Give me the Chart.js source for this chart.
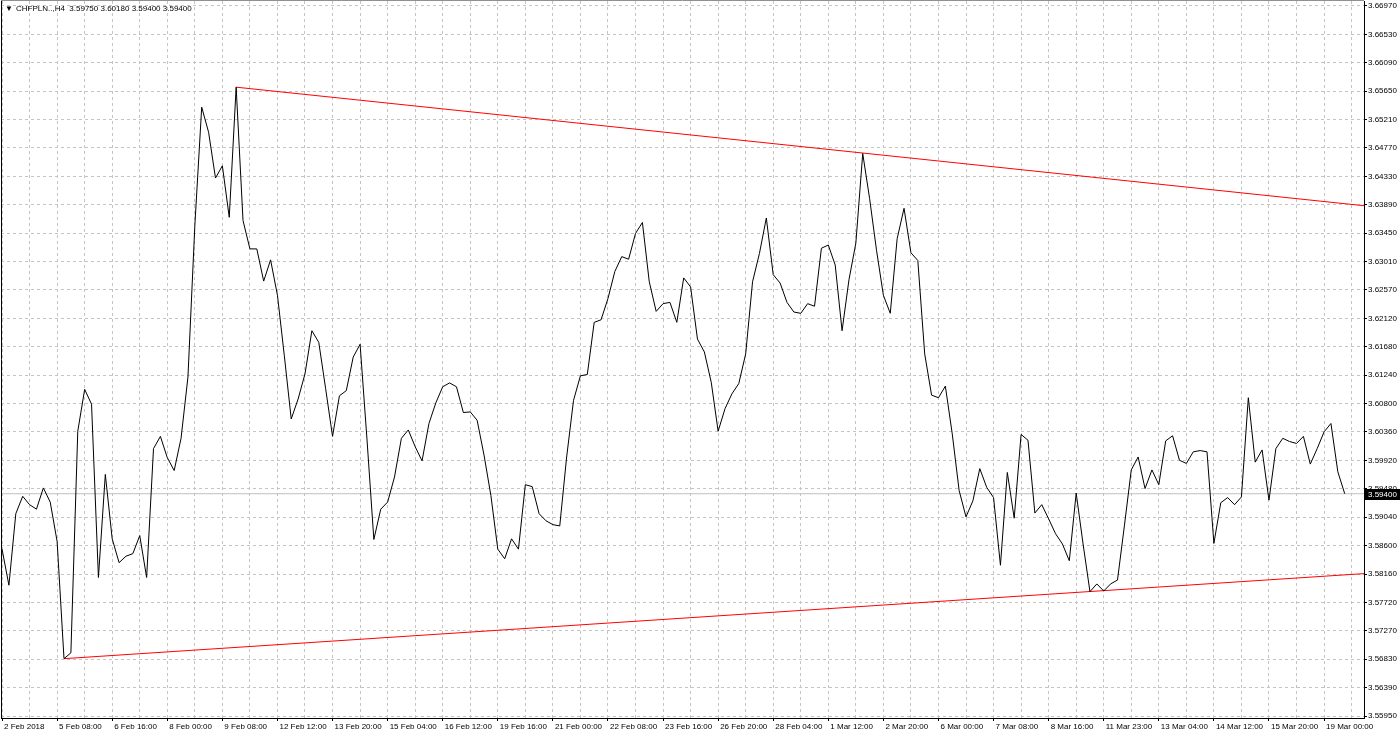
<!DOCTYPE html>
<html>
<head>
<meta charset="utf-8">
<title>CHFPLN H4</title>
<script src="https://cdn.jsdelivr.net/npm/chart.js@4.4.1/dist/chart.umd.min.js"></script>
<style>
  html, body { margin: 0; padding: 0; background: #fff; }
  #grafico { display: block; }
</style>
</head>
<body>
<canvas id="grafico" width="1400" height="736"></canvas>
<script>
// === Dados (fechamentos H4) ===
const closes = [
  3.5854, 3.5798, 3.5909, 3.5936, 3.5923, 3.5916, 3.5949, 3.5927, 3.5866, 3.5684,
  3.5693, 3.6037, 3.6102, 3.6079, 3.5810, 3.5970, 3.5870, 3.5833, 3.5843, 3.5847,
  3.5875, 3.5810, 3.6010, 3.6029, 3.5996, 3.5976, 3.6026, 3.6121, 3.6356, 3.6540,
  3.6501, 3.6430, 3.6449, 3.6369, 3.6571, 3.6364, 3.6320, 3.6320, 3.6270, 3.6303,
  3.6248, 3.6154, 3.6056, 3.6087, 3.6126, 3.6193, 3.6175, 3.6103, 3.6029, 3.6092,
  3.6100, 3.6152, 3.6172, 3.6025, 3.5869, 3.5916, 3.5927, 3.5966, 3.6026, 3.6039,
  3.6013, 3.5991, 3.6049, 3.6081, 3.6106, 3.6112, 3.6106, 3.6066, 3.6067, 3.6054,
  3.6000, 3.5937, 3.5854, 3.5839, 3.5870, 3.5854, 3.5954, 3.5951, 3.5909, 3.5898,
  3.5892, 3.5890, 3.5997, 3.6085, 3.6123, 3.6125, 3.6206, 3.6210, 3.6243, 3.6285,
  3.6308, 3.6304, 3.6344, 3.6361, 3.6269, 3.6223, 3.6235, 3.6237, 3.6206, 3.6275,
  3.6261, 3.6180, 3.6160, 3.6113, 3.6037, 3.6072, 3.6095, 3.6111, 3.6157, 3.6269,
  3.6313, 3.6368, 3.6280, 3.6267, 3.6237, 3.6222, 3.6220, 3.6235, 3.6231, 3.6321,
  3.6326, 3.6295, 3.6193, 3.6272, 3.6329, 3.6468, 3.6398, 3.6318, 3.6248, 3.6220,
  3.6336, 3.6383, 3.6314, 3.6302, 3.6157, 3.6093, 3.6089, 3.6107, 3.6033, 3.5945,
  3.5904, 3.5929, 3.5979, 3.5950, 3.5934, 3.5829, 3.5973, 3.5902, 3.6032, 3.6023,
  3.5910, 3.5923, 3.5901, 3.5878, 3.5862, 3.5836, 3.5941, 3.5862, 3.5788, 3.5800,
  3.5789, 3.5800, 3.5806, 3.5890, 3.5977, 3.5997, 3.5948, 3.5977, 3.5954, 3.6022,
  3.6030, 3.5992, 3.5987, 3.6005, 3.6007, 3.6005, 3.5863, 3.5926, 3.5934, 3.5923,
  3.5935, 3.6089, 3.5989, 3.6008, 3.5930, 3.6010, 3.6026, 3.6021, 3.6018, 3.6029,
  3.5986, 3.6010, 3.6036, 3.6049, 3.5974, 3.5940
];

// rótulos do eixo de tempo (um a cada 8 barras)
const xLabels = [
  "2 Feb 2018", "5 Feb 08:00", "6 Feb 16:00", "8 Feb 00:00", "9 Feb 08:00",
  "12 Feb 12:00", "13 Feb 20:00", "15 Feb 04:00", "16 Feb 12:00", "19 Feb 16:00",
  "21 Feb 00:00", "22 Feb 08:00", "23 Feb 16:00", "26 Feb 20:00", "28 Feb 04:00",
  "1 Mar 12:00", "2 Mar 20:00", "6 Mar 00:00", "7 Mar 08:00", "8 Mar 16:00",
  "11 Mar 23:00", "13 Mar 04:00", "14 Mar 12:00", "15 Mar 20:00", "19 Mar 00:00"
];

// rótulos do eixo de preço (de cima para baixo)
const yLabels = [
  "3.66970", "3.66530", "3.66090", "3.65650", "3.65210", "3.64770", "3.64330",
  "3.63890", "3.63450", "3.63010", "3.62570", "3.62120", "3.61680", "3.61240",
  "3.60800", "3.60360", "3.59920", "3.59480", "3.59040", "3.58600", "3.58160",
  "3.57720", "3.57270", "3.56830", "3.56390", "3.55950"
];

// linhas de tendência (barra, preço)
const trendTopBars = [34, 197.8];
const trendTopVals = [3.6571, 3.6387];
const trendLowBars = [9, 197.8];
const trendLowVals = [3.5684, 3.5816];

// última barra: abertura, máxima, mínima, fechamento
const lastBar = [3.59750, 3.60180, 3.59400, 3.59400];
const symbolName = "CHFPLN..,H4";

// === Escalas ===
const xMin = -0.15, xMax = 197.8;
const yTop = Number(yLabels[0]);
const yBottom = Number(yLabels[yLabels.length - 1]);
const yStep = (yTop - yBottom) / (yLabels.length - 1);
const yMax = yTop + 5 / 6443;
const yMin = yBottom - 2 / 6443;
const lastClose = lastBar[3];

const fonte = { family: "'Liberation Sans', Arial, sans-serif", size: 8 };

const pontos = closes.map((v, i) => ({ x: i, y: v }));
const linhaTopo = trendTopBars.map((b, i) => ({ x: b, y: trendTopVals[i] }));
const linhaBase = trendLowBars.map((b, i) => ({ x: b, y: trendLowVals[i] }));
const linhaPreco = [{ x: xMin, y: lastClose }, { x: xMax, y: lastClose }];

const xGrid = [];
for (let b = 0; b <= 196; b += 4) xGrid.push(b);

// === Plugin: moldura, cabeçalho e caixa do preço ===
const extras = {
  id: "extras",
  afterDraw(chart) {
    const c = chart.ctx;
    const a = chart.chartArea;
    c.save();
    c.strokeStyle = "#000";
    c.lineWidth = 1;
    c.beginPath();
    c.moveTo(a.left + 0.5, a.bottom);
    c.lineTo(a.left + 0.5, a.top);
    c.stroke();
    c.strokeStyle = "#909090";
    c.beginPath();
    c.moveTo(a.left, a.top - 0.5);
    c.lineTo(a.right, a.top - 0.5);
    c.stroke();

    // cabeçalho
    c.font = "8px 'Liberation Sans', Arial, sans-serif";
    c.fillStyle = "#000";
    c.textBaseline = "middle";
    c.textAlign = "left";
    c.fillText("\u25BC", 5, 9);
    c.fillText(symbolName + "  " + lastBar.map(v => v.toFixed(5)).join(" "), 16, 9);

    // caixa do último preço
    const y = chart.scales.y.getPixelForValue(lastClose);
    c.fillStyle = "#000";
    c.fillRect(a.right + 1, Math.round(y) - 5, 1400 - a.right - 1, 11);
    c.fillStyle = "#fff";
    c.fillText(lastClose.toFixed(5), a.right + 4, Math.round(y) + 0.5);
    c.restore();
  }
};

// === Gráfico ===
const ctx = document.getElementById("grafico").getContext("2d");
const grafico = new Chart(ctx, {
  type: "line",
  data: {
    datasets: [
      { data: pontos, borderColor: "#000", borderWidth: 1, pointRadius: 0, tension: 0 },
      { data: linhaTopo, borderColor: "#ff0000", borderWidth: 1, pointRadius: 0 },
      { data: linhaBase, borderColor: "#ff0000", borderWidth: 1, pointRadius: 0 },
      { data: linhaPreco, borderColor: "#c0c0c0", borderWidth: 1, pointRadius: 0 }
    ]
  },
  options: {
    responsive: false,
    devicePixelRatio: 1,
    animation: false,
    layout: { padding: { left: 1, top: 1, right: 0, bottom: 0 } },
    plugins: { legend: { display: false }, tooltip: { enabled: false } },
    scales: {
      x: {
        type: "linear",
        position: "bottom",
        min: xMin,
        max: xMax,
        afterBuildTicks: s => { s.ticks = xGrid.map(v => ({ value: v })); },
        afterFit: s => { s.height = 18; s.paddingLeft = 0; s.paddingRight = 0; },
        ticks: {
          autoSkip: false,
          maxRotation: 0,
          minRotation: 0,
          align: "start",
          labelOffset: 2,
          padding: 1,
          color: "#000",
          font: fonte,
          callback: v => (v % 8 === 0 ? xLabels[v / 8] : "")
        },
        grid: {
          color: "#c4c4c4",
          lineWidth: 1,
          tickLength: 3,
          tickWidth: 1,
          tickBorderDash: [],
          tickColor: c => (c.tick && c.tick.value % 8 === 0 ? "#000" : "rgba(0,0,0,0)")
        },
        border: { display: true, color: "#000", width: 1, dash: [3, 3] }
      },
      y: {
        type: "linear",
        position: "right",
        min: yMin,
        max: yMax,
        afterBuildTicks: s => {
          const t = [];
          for (let k = yLabels.length - 1; k >= 0; k--) t.push({ value: yTop - k * yStep });
          s.ticks = t;
        },
        afterFit: s => { s.width = 36; s.paddingTop = 0; s.paddingBottom = 0; },
        ticks: {
          autoSkip: false,
          padding: 1,
          color: "#000",
          font: fonte,
          callback: v => yLabels[Math.round((yTop - v) / yStep)]
        },
        grid: {
          color: "#c4c4c4",
          lineWidth: 1,
          tickLength: 3,
          tickWidth: 1,
          tickBorderDash: [],
          tickColor: "#000"
        },
        border: { display: true, color: "#000", width: 1, dash: [3, 3] }
      }
    }
  },
  plugins: [extras]
});
</script>
</body>
</html>
